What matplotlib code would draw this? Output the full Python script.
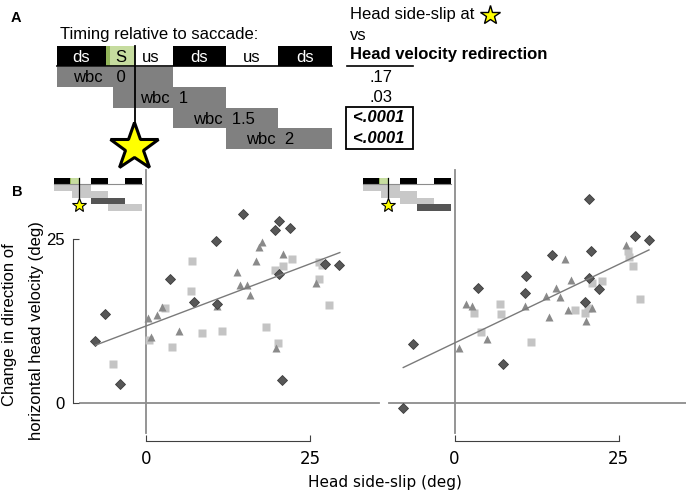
import numpy as np
import matplotlib.pyplot as plt
from matplotlib.patches import Rectangle

plt.rcParams['font.family'] = ['Liberation Sans', 'DejaVu Sans']

W, H = 686, 493

# ---- panel A: timing scheme ----
seg_labels = ['ds', 'S', 'us', 'ds', 'us', 'ds']
seg_edges = [0, 49, 78, 116, 169, 221, 275]
row_labels = ['wbc   0', 'wbc  1', 'wbc  1.5', 'wbc  2']
row_spans = [(0, 116), (56, 169), (116, 221), (169, 275)]
row_label_x = [16, 83, 136, 189]
p_labels = ['.17', '.03', '<.0001', '<.0001']
p_signif = [False, False, True, True]

# ---- panel B left: side-slip at wbc 1.5 ----
l_dia_x = [-7.7, -6.2, -4.0, 3.6, 7.3, 10.7, 10.8, 14.7, 19.6, 20.3, 21.9, 20.3, 20.7, 27.2, 29.4]
l_dia_y = [9.45, 13.6, 2.85, 18.9, 15.4, 24.7, 15.1, 28.7, 26.3, 27.7, 26.7, 19.7, 3.5, 21.1, 21.0]
l_sq_x = [-4.95, 0.5, 2.9, 4.0, 6.8, 7.0, 8.5, 11.5, 18.2, 19.7, 20.9, 20.1, 22.2, 26.3, 26.3, 27.9, 26.8]
l_sq_y = [5.9, 9.55, 14.4, 8.5, 17.0, 21.6, 10.6, 10.9, 11.5, 20.3, 20.8, 9.1, 21.9, 21.5, 18.8, 14.9, 21.0]
l_tri_x = [0.35, 0.7, 1.7, 2.5, 5.0, 10.8, 13.8, 14.3, 15.3, 15.9, 16.7, 17.2, 17.6, 20.8, 19.8, 25.9]
l_tri_y = [12.9, 10.1, 13.4, 14.6, 11.0, 14.7, 19.9, 18.0, 18.0, 16.4, 21.6, 23.7, 24.5, 22.7, 8.3, 18.2]
l_fit_x = [-7.7, 29.5]
l_fit_y = [8.8, 22.9]

# ---- panel B right: side-slip at wbc 2 ----
r_dia_x = [-7.8, -6.25, 3.6, 7.4, 10.9, 10.7, 14.8, 20.4, 20.8, 20.5, 22.0, 19.8, 27.4, 29.6]
r_dia_y = [-0.8, 9.0, 17.5, 6.0, 19.4, 16.7, 22.5, 31.0, 23.1, 19.0, 17.4, 15.3, 25.4, 24.8]
r_sq_x = [3.0, 4.0, 6.9, 7.1, 11.6, 18.4, 19.9, 20.3, 21.0, 22.4, 26.4, 26.5, 27.1, 28.2]
r_sq_y = [13.7, 10.8, 15.0, 13.6, 9.3, 14.1, 13.7, 14.5, 18.3, 18.6, 23.2, 22.2, 20.9, 15.8]
r_tri_x = [0.7, 1.7, 2.6, 5.0, 10.8, 13.9, 15.4, 16.0, 14.4, 16.8, 17.7, 17.3, 20.9, 20.0, 26.1]
r_tri_y = [8.4, 15.0, 14.8, 9.75, 14.8, 16.3, 17.5, 16.2, 13.1, 21.9, 18.75, 14.2, 14.4, 12.5, 24.1]
r_fit_x = [-7.8, 29.6]
r_fit_y = [5.4, 23.3]

ticks = [0, 25]

fig = plt.figure(figsize=(W / 100, H / 100), dpi=100)

S = 6.57  # pixels per degree


def panel_axes(ox, oy, xlim, ylim):
    # place axes so that data (0,0) lands on pixel (ox, oy)
    x0 = ox + xlim[0] * S
    x1 = ox + xlim[1] * S
    ytop = oy - ylim[1] * S
    ybot = oy - ylim[0] * S
    ax = fig.add_axes([x0 / W, 1 - ybot / H, (x1 - x0) / W, (ybot - ytop) / H])
    ax.set_xlim(xlim)
    ax.set_ylim(ylim)
    ax.patch.set_alpha(0)
    return ax


def scatter_panel(ax, dx, dy, sx, sy, tx, ty, fx, fy):
    ax.plot([-10, 35.5], [0, 0], color='#8c8c8c', lw=1.3, zorder=1)
    ax.plot([0, 0], [-4.6, 35.5], color='#8c8c8c', lw=1.3, zorder=1)
    ax.plot(sx, sy, 's', ms=5.2, color='#c4c4c4', mec='none', zorder=2)
    ax.plot(tx, ty, '^', ms=5.2, color='#8a8a8a', mec='none', zorder=3)
    ax.plot(dx, dy, 'D', ms=5.4, color='#575757', mec='#3c3c3c', mew=0.6, zorder=4)
    ax.plot(fx, fy, color='#7a7a7a', lw=1.0, zorder=5)
    for s in ['top', 'right']:
        ax.spines[s].set_visible(False)
    ax.spines['bottom'].set_position(('data', -5.8))
    ax.spines['bottom'].set_bounds(0, 25)
    ax.spines['bottom'].set_color('#404040')
    ax.set_xticks(ticks)
    ax.tick_params(direction='in', length=4, color='#404040', labelsize=12)
    for lab in ax.get_xticklabels() + ax.get_yticklabels():
        lab.set_family('DejaVu Sans')
    ax.tick_params(axis='x', pad=6.5)


axL = panel_axes(146, 403, (-13, 36), (-7.2, 35.8))
axL.set_yticks(ticks)
scatter_panel(axL, l_dia_x, l_dia_y, l_sq_x, l_sq_y, l_tri_x, l_tri_y, l_fit_x, l_fit_y)
axL.spines['left'].set_position(('data', -11.1))
axL.spines['left'].set_bounds(0, 25)
axL.spines['left'].set_color('#404040')
axL.tick_params(axis='y', pad=6)

axR = panel_axes(454.5, 403, (-10.5, 35.2), (-7.2, 35.8))
axR.set_yticks([])
scatter_panel(axR, r_dia_x, r_dia_y, r_sq_x, r_sq_y, r_tri_x, r_tri_y, r_fit_x, r_fit_y)
axR.spines['left'].set_visible(False)

# overlay in pixel coordinates for the scheme and labels
ov = fig.add_axes([0, 0, 1, 1])
ov.set_xlim(0, W)
ov.set_ylim(H, 0)
ov.axis('off')


def draw_timing(x0, y0, k, row_colors, text=True, star_y=101, star_ms=36, star_mew=2.2):
    bar_h = 20 * k
    row_h = 20.6 * k
    line_col = 'black' if text else '#8c8c8c'
    for lab, a, b in zip(seg_labels, seg_edges[:-1], seg_edges[1:]):
        if lab == 'ds':
            fc, tc = 'black', 'white'
        elif lab == 'S':
            fc, tc = '#c6dc9f', 'black'
        else:
            fc, tc = 'white', 'black'
        ov.add_patch(Rectangle((x0 + a * k, y0), (b - a) * k, bar_h, fc=fc, ec='none'))
        if lab == 'S':
            ov.add_patch(Rectangle((x0 + a * k, y0), 4 * k, bar_h, fc='#93b55a', ec='none'))
        if text:
            shift = 3 if (lab == 'us' and a < 100) else 0
            ov.text(x0 + (a + b) / 2 * k - shift, y0 + bar_h / 2 + 1,
                    lab, ha='center', va='center', color=tc, fontsize=12)
    ov.plot([x0, x0 + seg_edges[-1] * k], [y0 + bar_h, y0 + bar_h], color=line_col,
            lw=1.2 if text else 0.8)
    for i, ((a, b), col) in enumerate(zip(row_spans, row_colors)):
        ov.add_patch(Rectangle((x0 + a * k, y0 + bar_h + 0.6 * k + i * row_h), (b - a) * k, row_h,
                               fc=col, ec='none'))
        if text:
            ov.text(x0 + row_label_x[i] * k, y0 + bar_h + 0.6 * k + (i + 0.5) * row_h + 1,
                    row_labels[i], ha='left', va='center', fontsize=12)
    ov.plot([x0 + 78 * k, x0 + 78 * k], [y0, y0 + star_y * k], color='black',
            lw=1.3 if text else 0.9)
    ov.plot([x0 + 77 * k], [y0 + star_y * k], marker='*', ms=star_ms, mfc='#ffff00',
            mec='black', mew=star_mew)


draw_timing(57, 46, 1.0, ['#808080'] * 4)
draw_timing(54, 178, 0.32, ['#c8c8c8', '#c8c8c8', '#555555', '#c8c8c8'], text=False,
            star_y=84, star_ms=10, star_mew=0.8)
draw_timing(363, 178, 0.32, ['#c8c8c8', '#c8c8c8', '#c8c8c8', '#555555'], text=False,
            star_y=84, star_ms=10, star_mew=0.8)

ov.text(60, 35, 'Timing relative to saccade:', fontsize=12, ha='left', va='center')
ov.text(16, 18, 'A', fontsize=10.5, fontweight='bold', ha='center', va='center')
ov.text(17, 192, 'B', fontsize=10.5, fontweight='bold', ha='center', va='center')

# comparison list
ov.text(350, 14, 'Head side-slip at', fontsize=12, ha='left', va='center')
ov.plot([490], [15], marker='*', ms=15, mfc='#ffff00', mec='black', mew=1.0)
ov.text(350, 35, 'vs', fontsize=12, ha='left', va='center')
ov.text(350, 55, 'Head velocity redirection', fontsize=12, fontweight='bold',
        ha='left', va='center')
ov.plot([347, 413], [66, 66], color='black', lw=1.2)
for i, (lab, sig) in enumerate(zip(p_labels, p_signif)):
    yy = 77 + i * 20.5
    if sig:
        ov.text(379, yy, lab, fontsize=12, fontweight='bold', style='italic',
                ha='center', va='center')
    else:
        ov.text(381, yy, lab, fontsize=12, ha='center', va='center')
ov.add_patch(Rectangle((346, 107), 67, 42, fc='none', ec='black', lw=1.3))

# axis labels
ov.text(10, 325, 'Change in direction of', rotation=90, fontsize=12,
        ha='center', va='center')
ov.text(37, 331, 'horizontal head velocity (deg)', rotation=90, fontsize=12,
        ha='center', va='center')
ov.text(385, 483, 'Head side-slip (deg)', fontsize=11, family='DejaVu Sans',
        ha='center', va='center')

fig.savefig('out.png', dpi=100)
